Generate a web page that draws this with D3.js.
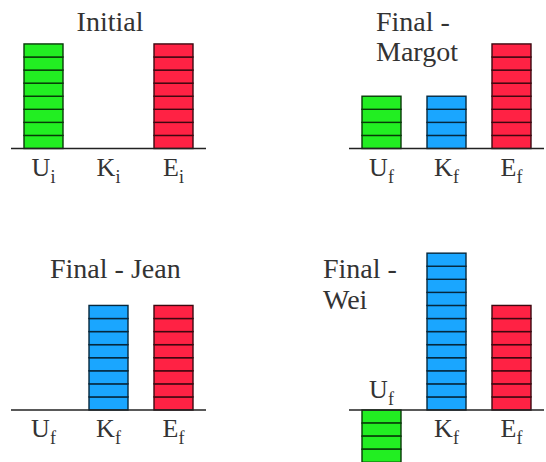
<!DOCTYPE html>
<html><head><meta charset="utf-8">
<script src="https://cdn.jsdelivr.net/npm/d3@7"></script>
<style>html,body{margin:0;padding:0;background:#fff;overflow:hidden}</style>
</head><body>
<script>
// ---- data ----
const categories = ["U", "K", "E"];
const panelTitles = [["Initial"], ["Final -", "Margot"], ["Final - Jean"], ["Final -", "Wei"]];
const subscripts = ["i", "f", "f", "f"];
const initialValues = [8, 0, 8];
const margotValues = [4, 4, 8];
const jeanValues = [0, 8, 8];
const weiValues = [-4, 12, 8];
const seriesValues = [initialValues, margotValues, jeanValues, weiValues];
// ---- styles / layout ----
const barColors = ["#22ee22", "#1aa6ff", "#ff2244"];
const layout = [
  {x0: 11, x1: 206, base: 148.5, titleX: 110, titleY: 30.7, anchor: "middle"},
  {x0: 349, x1: 544, base: 148.5, titleX: 376, titleY: 30.7, anchor: "start"},
  {x0: 11, x1: 206, base: 410, titleX: 50, titleY: 278.3, anchor: "start"},
  {x0: 349, x1: 544, base: 410, titleX: 323, titleY: 278.3, anchor: "start"}
];
const unit = 13.07;
const W = 546, H = 462;
const FONT = '"Liberation Serif"';
const svg = d3.select("body").append("svg").attr("width", W).attr("height", H);

seriesValues.forEach((vals, p) => {
  const L = layout[p];
  const g = svg.append("g");
  const x = d3.scaleBand().domain(categories).range([L.x0, L.x1]).paddingInner(0.4).paddingOuter(0.2);
  const y = d3.scaleLinear().domain([0, 1]).range([L.base, L.base - unit]);
  const cells = [];
  vals.forEach((v, i) => {
    const s = Math.sign(v);
    for (let k = 0; k < Math.abs(v); k++) cells.push({cat: categories[i], i, a: k * s, b: (k + 1) * s});
  });
  g.selectAll("rect.cell").data(cells).join("rect")
    .attr("class", "cell")
    .attr("x", d => x(d.cat))
    .attr("width", x.bandwidth())
    .attr("y", d => Math.min(y(d.a), y(d.b)))
    .attr("height", d => Math.abs(y(d.a) - y(d.b)))
    .attr("fill", d => barColors[d.i])
    .attr("stroke", d => d3.color(barColors[d.i]).darker(4))
    .attr("stroke-width", 1.4);
  g.append("line").attr("x1", L.x0).attr("x2", L.x1).attr("y1", L.base).attr("y2", L.base)
    .attr("stroke", "#222").attr("stroke-width", 1.5);
  categories.forEach((c, i) => {
    const neg = vals[i] < 0;
    const t = g.append("text")
      .attr("x", x(c) + x.bandwidth() / 2)
      .attr("y", neg ? L.base - 12 : L.base + 27)
      .attr("text-anchor", "middle")
      .style("font-family", FONT).style("font-size", "26px").style("fill", "#333");
    t.append("tspan").text(c);
    t.append("tspan").attr("dy", 7).style("font-size", "18px").text(subscripts[p]);
  });
  const tt = g.append("text").attr("x", L.titleX).attr("y", L.titleY)
    .attr("text-anchor", L.anchor)
    .style("font-family", FONT).style("font-size", "28px").style("fill", "#333");
  panelTitles[p].forEach((line, j) => {
    tt.append("tspan").attr("x", L.titleX).attr("dy", j === 0 ? 0 : 30.5).text(line);
  });
});
</script>
</body></html>
